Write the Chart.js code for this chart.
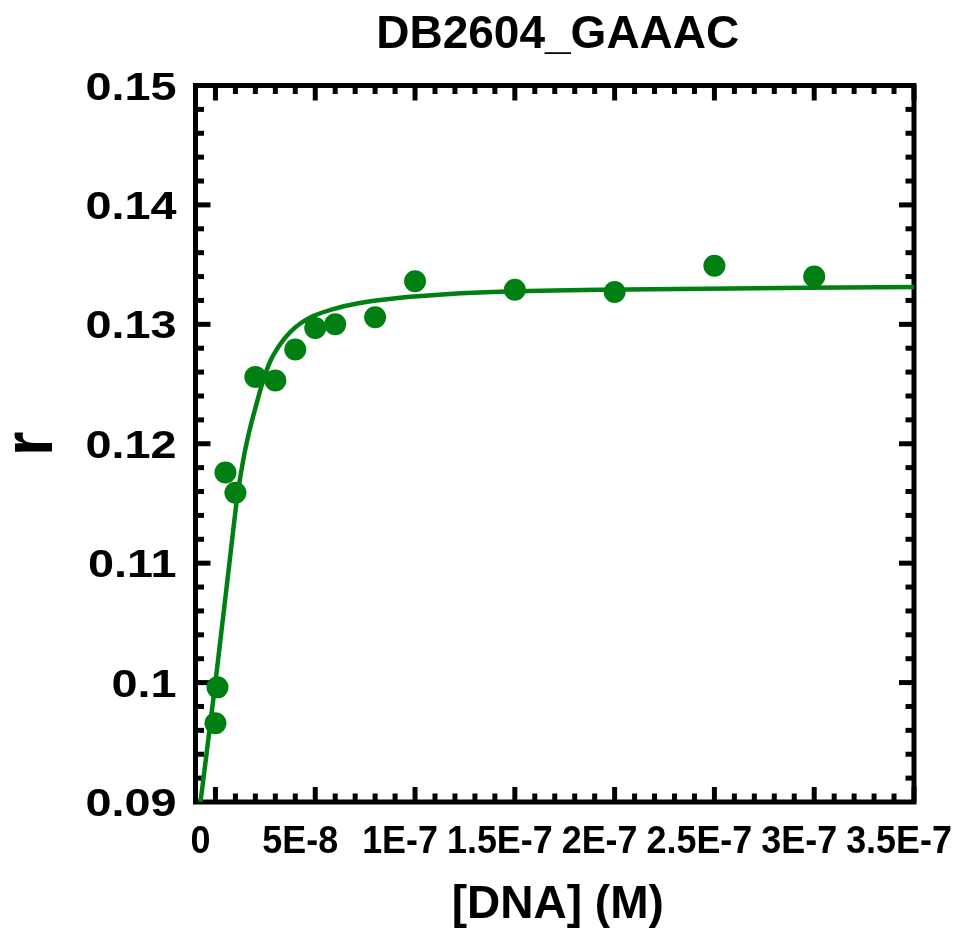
<!DOCTYPE html>
<html>
<head>
<meta charset="utf-8">
<title>DB2604_GAAAC</title>
<script src="https://cdn.jsdelivr.net/npm/chart.js@4.4.1/dist/chart.umd.min.js"></script>
<style>
  html, body { margin: 0; padding: 0; background: #fff; }
  canvas { display: block; }
</style>
</head>
<body>
<canvas id="chart" width="955" height="931"></canvas>
<script>
// ===== DATA =====
const CHART_TITLE = 'DB2604_GAAAC';
const X_TITLE = '[DNA] (M)';
const Y_TITLE = 'r';

// Titration points: DNA concentration (M) vs r
const dnaConc = [0, 1e-9, 5e-9, 1e-8, 2e-8, 3e-8, 4e-8, 5e-8, 6e-8, 8e-8, 1e-7, 1.5e-7, 2e-7, 2.5e-7, 3e-7];
const rValues = [0.0966, 0.0996, 0.1176, 0.1159, 0.1256, 0.1253, 0.1279, 0.1297, 0.1300, 0.1306, 0.1336, 0.1329, 0.1327, 0.1349, 0.1340];

// Fitted binding curve
const fitConc = [-7.5e-9, 0, 7e-9, 1.1e-8, 1.4e-8, 1.7e-8, 2.0e-8, 2.385e-8, 2.75e-8, 3.25e-8, 3.75e-8,
                 4.25e-8, 4.9e-8, 5.9e-8, 7.1e-8, 9.25e-8, 1.175e-7, 1.425e-7, 1.925e-7, 3.5e-7];
const fitR    = [0.09000, 0.10005, 0.11001, 0.11563, 0.11872, 0.12107, 0.12299, 0.12525, 0.12693, 0.12835, 0.12936,
                 0.13007, 0.13070, 0.13128, 0.13174, 0.13222, 0.13254, 0.13272, 0.13289, 0.13313];

// Axis ranges and tick labels
const X_MIN = -1e-8, X_MAX = 3.5e-7;
const Y_MIN = 0.09, Y_MAX = 0.15;
const xTickValues = [0, 5e-8, 1e-7, 1.5e-7, 2e-7, 2.5e-7, 3e-7, 3.5e-7];
const xTickLabels = ['0', '5E-8', '1E-7', '1.5E-7', '2E-7', '2.5E-7', '3E-7', '3.5E-7'];
const yTickValues = [0.09, 0.10, 0.11, 0.12, 0.13, 0.14, 0.15];
const yTickLabels = ['0.09', '0.1', '0.11', '0.12', '0.13', '0.14', '0.15'];
const X_MINOR_STEP = 1e-8;
const Y_MINOR_STEP = 0.002;

const GREEN = '#008012';
const FONT = '"Liberation Sans", Arial, Helvetica, sans-serif';

// ===== FRAME, TICKS AND TEXT =====
function seg(ctx, x1, y1, x2, y2) {
  ctx.beginPath();
  ctx.moveTo(x1, y1);
  ctx.lineTo(x2, y2);
  ctx.stroke();
}

// text squeezed or stretched along its width
function scaledText(ctx, text, x, y, sx, align) {
  ctx.save();
  ctx.translate(x, y);
  ctx.scale(sx, 1);
  ctx.textAlign = align;
  ctx.fillText(text, 0, 0);
  ctx.restore();
}

const boxAxes = {
  id: 'boxAxes',
  beforeDatasetsDraw(chart) {
    const { ctx, chartArea: a, scales: { x, y } } = chart;
    ctx.save();
    ctx.strokeStyle = '#000';
    ctx.lineWidth = 5;
    ctx.lineJoin = 'miter';
    ctx.lineCap = 'butt';
    ctx.strokeRect(a.left, a.top, a.right - a.left, a.bottom - a.top);

    // inward ticks, mirrored on all four sides
    const nx = Math.round(X_MAX / X_MINOR_STEP);
    for (let i = 0; i <= nx; i++) {
      const px = x.getPixelForValue(i * X_MINOR_STEP);
      const len = i % 5 === 0 ? 15 : 8.5;
      seg(ctx, px, a.bottom, px, a.bottom - len);
      seg(ctx, px, a.top, px, a.top + len);
    }
    const ny = Math.round((Y_MAX - Y_MIN) / Y_MINOR_STEP);
    for (let i = 1; i < ny; i++) {
      const py = y.getPixelForValue(Y_MIN + i * Y_MINOR_STEP);
      const len = i % 5 === 0 ? 15 : 8.5;
      seg(ctx, a.left, py, a.left + len, py);
      seg(ctx, a.right, py, a.right - len, py);
    }
    ctx.restore();
  },
  afterDraw(chart) {
    const { ctx, chartArea: a, scales: { x, y } } = chart;
    const cx = (a.left + a.right) / 2 + 3;
    ctx.save();
    ctx.fillStyle = '#000';
    ctx.textBaseline = 'alphabetic';

    ctx.font = '700 39px ' + FONT;
    yTickValues.forEach((v, i) => {
      scaledText(ctx, yTickLabels[i], a.left - 19, y.getPixelForValue(v) + 14, 1.2, 'right');
    });
    xTickValues.forEach((v, i) => {
      scaledText(ctx, xTickLabels[i], x.getPixelForValue(v) - 15, a.bottom + 51, 0.92, 'center');
    });

    ctx.font = '700 46px ' + FONT;
    ctx.textAlign = 'center';
    ctx.fillText(CHART_TITLE, cx, 48);
    ctx.fillText(X_TITLE, cx, a.bottom + 116);

    ctx.font = '700 70px ' + FONT;
    ctx.translate(52, (a.top + a.bottom) / 2);
    ctx.rotate(-Math.PI / 2);
    ctx.scale(0.9, 1);
    ctx.fillText(Y_TITLE, 0, 0);
    ctx.restore();
  }
};

// ===== CHART =====
new Chart(document.getElementById('chart'), {
  type: 'scatter',
  data: {
    datasets: [
      {
        label: 'r',
        data: dnaConc.map((c, i) => ({ x: c, y: rValues[i] })),
        backgroundColor: GREEN,
        borderColor: GREEN,
        pointRadius: 11,
        pointHoverRadius: 11,
        borderWidth: 0,
        order: 0
      },
      {
        type: 'line',
        label: 'fit',
        data: fitConc.map((c, i) => ({ x: c, y: fitR[i] })),
        borderColor: GREEN,
        borderWidth: 4.5,
        pointRadius: 0,
        fill: false,
        cubicInterpolationMode: 'monotone',
        order: 1
      }
    ]
  },
  options: {
    responsive: false,
    animation: false,
    devicePixelRatio: 1,
    layout: { padding: { left: 195.5, right: 41, top: 85.5, bottom: 129 } },
    plugins: {
      legend: { display: false },
      title: { display: false },
      tooltip: { enabled: false }
    },
    scales: {
      x: { type: 'linear', min: X_MIN, max: X_MAX, display: false },
      y: { type: 'linear', min: Y_MIN, max: Y_MAX, display: false }
    }
  },
  plugins: [boxAxes]
});
</script>
</body>
</html>
